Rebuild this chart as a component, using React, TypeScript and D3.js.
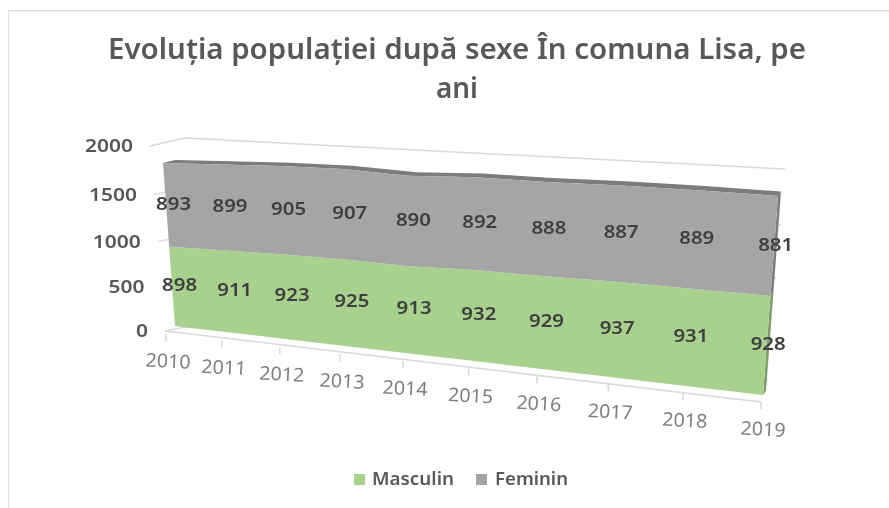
import React from "react";
import * as d3 from "d3";

const years = ["2010", "2011", "2012", "2013", "2014", "2015", "2016", "2017", "2018", "2019"];
const masculin = [898, 911, 923, 925, 913, 932, 929, 937, 931, 928];
const feminin = [893, 899, 905, 907, 890, 892, 888, 887, 889, 881];
const valueTicks = [0, 500, 1000, 1500, 2000];
const seriesNames = ["Masculin", "Feminin"];

const FONT = "'Noto Sans', sans-serif";
const GREEN = "#a9d18e";
const GREY = "#a5a5a5";
const GREY_DARK = "#7c7c7c";
const GREEN_DARK = "#7f9d6a";
const GRID = "#d9d9d9";

// perspective warps for the tilted 3-D plot
const warp = (k: number) => (x: number) => x / (x + k * (1 - x));
const depthWarp = warp(1.208);
const heightWarp = warp(1.07);

const catIndex = d3.scalePoint<string>().domain(years).range([0, 1]);
const valueNorm = d3.scaleLinear().domain([0, 2000]).range([0, 1]);
const S = (year: string) => depthWarp(catIndex(year) as number);
const H = (v: number) => heightWarp(valueNorm(v));

// front plane of the data
const baseX = d3.scaleLinear().domain([0, 1]).range([175, 763]);
const baseY = d3.scaleLinear().domain([0, 1]).range([326, 395]);
const upX = d3.scaleLinear().domain([0, 1]).range([-13.5, 16.7]);
const upY = d3.scaleLinear().domain([0, 1]).range([-183.3, -221.5]);
const project = (s: number, v: number): [number, number] => {
  const h = H(v);
  return [baseX(s) + upX(s) * h, baseY(s) + upY(s) * h];
};

// depth of the top surface
const depthX = d3.scaleLinear().domain([0, 1]).range([12, 3]);
const depthY = d3.scaleLinear().domain([0, 1]).range([-3, -4.5]);

// walls and floor
const leftWallX = d3.scaleLinear().domain([0, 1]).range([165, 150]);
const leftWallY = d3.scaleLinear().domain([0, 1]).range([331, 146]);
const backLeftX = d3.scaleLinear().domain([0, 1]).range([185, 185]);
const backLeftY = d3.scaleLinear().domain([0, 1]).range([327, 138]);
const backRightX = d3.scaleLinear().domain([0, 1]).range([768, 785]);
const backRightY = d3.scaleLinear().domain([0, 1]).range([380, 169]);
const axisX = d3.scaleLinear().domain([0, 1]).range([166, 761]);
const axisY = d3.scaleLinear().domain([0, 1]).range([334, 402]);

const stack = d3.stack<number>().keys(["0", "1"]).value((i, k) => (k === "0" ? masculin[i] : feminin[i]));
const stacked = stack(years.map((_, i) => i));
const poly = d3.line<[number, number]>();

const bandPath = (k: number) => {
  const top = years.map((y, i) => project(S(y), stacked[k][i][1]));
  const bottom = years.map((y, i) => project(S(y), stacked[k][i][0])).reverse();
  return poly([...top, ...bottom]) + "Z";
};
const topSurface = () => {
  const front = years.map((y, i) => project(S(y), stacked[1][i][1]));
  const back = years
    .map((y, i): [number, number] => {
      const s = S(y);
      const p = project(s, stacked[1][i][1]);
      return [p[0] + depthX(s), p[1] + depthY(s)];
    })
    .reverse();
  return poly([...front, ...back]) + "Z";
};
const sidePath = (k: number) => {
  const last = years[years.length - 1];
  const s = S(last);
  const i = years.length - 1;
  const a = project(s, stacked[k][i][1]);
  const b = project(s, stacked[k][i][0]);
  const pts: [number, number][] = [a, [a[0] + depthX(s), a[1] + depthY(s)], [b[0] + depthX(s), b[1] + depthY(s)], b];
  return poly(pts) + "Z";
};

const labelDx = d3.scaleLinear().domain([0, 1]).range([7.5, 1.5]);

const yLabelX = (v: number) => leftWallX(H(v)) - 17;

export default function App() {
  return (
    <svg
      width={889}
      height={508}
      viewBox="0 0 889 508"
      style={{ position: "absolute", left: 0, top: 0, display: "block", background: "#fff", fontFamily: FONT }}
    >
      <defs>
        <filter id="soft" x="0" y="0" width="100%" height="100%">
          <feGaussianBlur stdDeviation="0.45" />
        </filter>
      </defs>
      <g filter="url(#soft)">
        {/* frame */}
        <path d="M8,508V10.5H889" fill="none" stroke={GRID} strokeWidth={1.5} />

        <text fontSize={29} fontWeight={600} fill="#595959" textAnchor="middle">
          <tspan x={457} y={59} textLength={698} lengthAdjust="spacingAndGlyphs">
            Evoluția populației după sexe În comuna Lisa, pe
          </tspan>
        </text>
        <text x={457} y={98} fontSize={29} fontWeight={600} fill="#595959" textAnchor="middle" textLength={42} lengthAdjust="spacingAndGlyphs">
          ani
        </text>

        {/* walls */}
        <g fill="none" stroke={GRID} strokeWidth={1.5}>
          {valueTicks.map((v) => {
            const h = H(v);
            const pts: [number, number][] = [
              [leftWallX(h), leftWallY(h)],
              [backLeftX(h), backLeftY(h)],
              [backRightX(h), backRightY(h)],
            ];
            return <path key={v} d={poly(pts) as string} />;
          })}
        </g>

        {/* floor edge and ticks */}
        <g fill="none" stroke={GRID} strokeWidth={1.5}>
          <path d={poly([[165, 331], [axisX(1), axisY(1)]]) as string} />
          {years.map((y) => {
            const s = S(y);
            return <path key={y} d={poly([[axisX(s), axisY(s)], [axisX(s), axisY(s) + 7]]) as string} />;
          })}
        </g>

        {/* stacked 3-D area */}
        <path d={sidePath(0)} fill={GREEN_DARK} />
        <path d={sidePath(1)} fill={GREY_DARK} />
        <path d={topSurface()} fill={GREY_DARK} />
        <path d={bandPath(0)} fill={GREEN} />
        <path d={bandPath(1)} fill={GREY} />

        {/* value axis */}
        {valueTicks.map((v) => (
          <text
            key={v}
            x={yLabelX(v)}
            y={leftWallY(H(v))}
            dy="0.35em"
            textAnchor="end"
            fontSize={18}
            fontWeight={600}
            fill="#595959"
            textLength={String(v).length * 12}
            lengthAdjust="spacingAndGlyphs"
          >
            {v}
          </text>
        ))}

        {/* category axis */}
        {years.map((y) => {
          const s = S(y);
          const lx = axisX(s) + 2;
          const ly = axisY(s) + 27;
          return (
            <text
              key={y}
              transform={`translate(${lx},${ly}) rotate(3)`}
              dy="0.35em"
              textAnchor="middle"
              fontSize={19}
              fill="#7f7f7f"
              textLength={45}
              lengthAdjust="spacingAndGlyphs"
            >
              {y}
            </text>
          );
        })}

        {/* data labels */}
        {[masculin, feminin].map((vals, k) =>
          years.map((y, i) => {
            const s = S(y);
            const mid = (stacked[k][i][0] + stacked[k][i][1]) / 2;
            const [px, py] = project(s, mid);
            return (
              <text
                key={k + y}
                x={px + labelDx(s)}
                y={py - 2.5}
                dy="0.35em"
                textAnchor="middle"
                fontSize={18.5}
                fontWeight={600}
                fill="#404040"
                textLength={35}
                lengthAdjust="spacingAndGlyphs"
              >
                {vals[i]}
              </text>
            );
          })
        )}

        {/* legend */}
        <rect x={354} y={474} width={11} height={11} fill={GREEN} />
        <text x={372} y={485} fontSize={17.5} fontWeight={600} fill="#595959" textLength={82} lengthAdjust="spacingAndGlyphs">{seriesNames[0]}</text>
        <rect x={476} y={474} width={11} height={11} fill={GREY} />
        <text x={495} y={485} fontSize={17.5} fontWeight={600} fill="#595959" textLength={73} lengthAdjust="spacingAndGlyphs">{seriesNames[1]}</text>
      </g>
    </svg>
  );
}
